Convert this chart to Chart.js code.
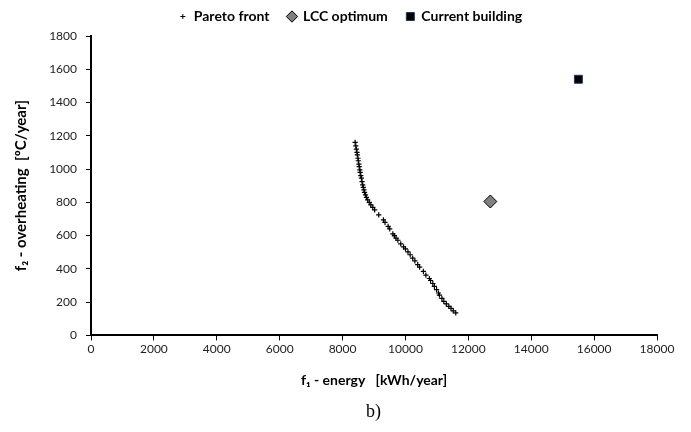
<!DOCTYPE html>
<html><head><meta charset="utf-8">
<script src="https://cdn.jsdelivr.net/npm/chart.js@4.4.1/dist/chart.umd.min.js"></script>
<style>html,body{margin:0;padding:0;background:#fff}</style>
</head><body>
<canvas id="c" width="691" height="432"></canvas>
<script>
const seriesNames = ['Pareto front', 'LCC optimum', 'Current building'];
const paretoEnergy = [8400,8420,8440,8460,8470,8490,8500,8520,8530,8550,8560,8580,8600,8620,8640,8660,8680,8700,8730,8760,8800,8850,8900,8960,9020,9150,9300,9350,9450,9500,9600,9650,9700,9760,9850,9940,10000,10080,10150,10230,10300,10390,10450,10570,10650,10760,10800,10870,10920,10990,11050,11080,11160,11220,11300,11380,11450,11520,11600];
const paretoOverheating = [1160,1140,1120,1100,1085,1065,1050,1030,1015,995,980,960,945,925,905,890,875,860,845,830,815,800,785,770,755,725,695,680,655,640,610,600,585,572,550,532,520,502,485,465,448,425,410,385,362,342,330,312,295,275,255,242,222,205,190,175,162,148,135];
const lccEnergy = [12700];
const lccOverheating = [805];
const currentEnergy = [15500];
const currentOverheating = [1540];
const xTickValues = [0,2000,4000,6000,8000,10000,12000,14000,16000,18000];
const yTickValues = [0,200,400,600,800,1000,1200,1400,1600,1800];

const FONT = 'Lato, "Open Sans", sans-serif';
const toPts = (xs, ys) => xs.map((x, i) => ({x, y: ys[i]}));

// small plus glyph for the legend
const plus = document.createElement('canvas');
plus.width = 7; plus.height = 7;
{ const g = plus.getContext('2d'); g.strokeStyle = '#000'; g.lineWidth = 1;
  g.beginPath(); g.moveTo(3.5,1); g.lineTo(3.5,6); g.moveTo(1,3.5); g.lineTo(6,3.5); g.stroke(); }

// layout tweaks: extra gap below legend, shift legend and bottom caption horizontally
const layoutTweaks = {
  id: 'layoutTweaks',
  beforeUpdate(chart) {
    const lg = chart.legend;
    if (lg && !lg._gapPatched) {
      const fit = lg.fit.bind(lg);
      lg.fit = function () { fit(); this.height += 2.5; };
      lg._gapPatched = true;
    }
  },
  afterLayout(chart) {
    if (chart.legend) { chart.legend.left += 22; chart.legend.right += 22; }
    if (chart.titleBlock) { chart.titleBlock.left += 45; chart.titleBlock.right += 45; }
  }
};

new Chart(document.getElementById('c'), {
  type: 'scatter',
  data: {
    datasets: [
      { label: seriesNames[0], data: toPts(paretoEnergy, paretoOverheating),
        pointStyle: 'cross', pointRadius: 2.6, pointBorderColor: '#000', borderColor: '#000', pointBorderWidth: 1.2, backgroundColor: '#000' },
      { label: seriesNames[1], data: toPts(lccEnergy, lccOverheating),
        pointStyle: 'rectRot', pointRadius: 6.5, backgroundColor: '#808080', borderColor: '#000', pointBorderWidth: 1 },
      { label: seriesNames[2], data: toPts(currentEnergy, currentOverheating),
        pointStyle: 'rect', pointRadius: 5.6, backgroundColor: '#000', borderColor: '#1F3864', pointBorderWidth: 1 }
    ]
  },
  plugins: [layoutTweaks],
  options: {
    responsive: false,
    animation: false,
    layout: { padding: { left: 0, right: 34, top: -9, bottom: 4 } },
    plugins: {
      tooltip: { enabled: false },
      legend: {
        position: 'top',
        labels: {
          usePointStyle: true, boxHeight: 8, boxWidth: 8, padding: 18.5,
          color: '#000', font: { family: FONT, size: 14, weight: 'bold' },
          generateLabels(chart) {
            const items = Chart.defaults.plugins.legend.labels.generateLabels(chart);
            items[0].pointStyle = plus;
            return items;
          }
        }
      },
      title: {
        display: true, position: 'bottom', text: 'b)', color: '#000',
        font: { family: '"Liberation Serif", "DejaVu Serif", serif', size: 18, weight: 'normal' },
        padding: { top: 0, bottom: 5 }
      }
    },
    scales: {
      x: {
        type: 'linear', min: 0, max: 18000,
        afterBuildTicks: s => { s.ticks = xTickValues.map(v => ({value: v})); },
        ticks: { color: '#222', font: { family: FONT, size: 12 }, padding: 2, maxRotation: 0,
          callback: v => String(v) },
        grid: { display: true, drawOnChartArea: false, color: '#000', tickLength: 5, lineWidth: 1 },
        border: { color: '#000', width: 2 },
        title: { display: true, text: 'f\u2081 - energy   [kWh/year]', color: '#000',
          font: { family: FONT, size: 14, weight: 'bold' }, padding: { top: 12, bottom: 13 } },
        afterFit: s => { s.height = 66; }
      },
      y: {
        type: 'linear', min: 0, max: 1800,
        afterBuildTicks: s => { s.ticks = yTickValues.map(v => ({value: v})); },
        ticks: { color: '#222', font: { family: FONT, size: 12 }, padding: 9,
          callback: v => String(v) },
        grid: { display: true, drawOnChartArea: false, color: '#000', tickLength: 5, lineWidth: 1 },
        border: { color: '#000', width: 2 },
        title: { display: true, text: 'f\u2082 - overheating  [\u00BAC/year]', color: '#000',
          font: { family: FONT, size: 15, weight: 'bold' }, padding: { top: 12, bottom: 8 } },
        afterFit: s => { s.width = 91; }
      }
    }
  }
});
</script>
</body></html>
